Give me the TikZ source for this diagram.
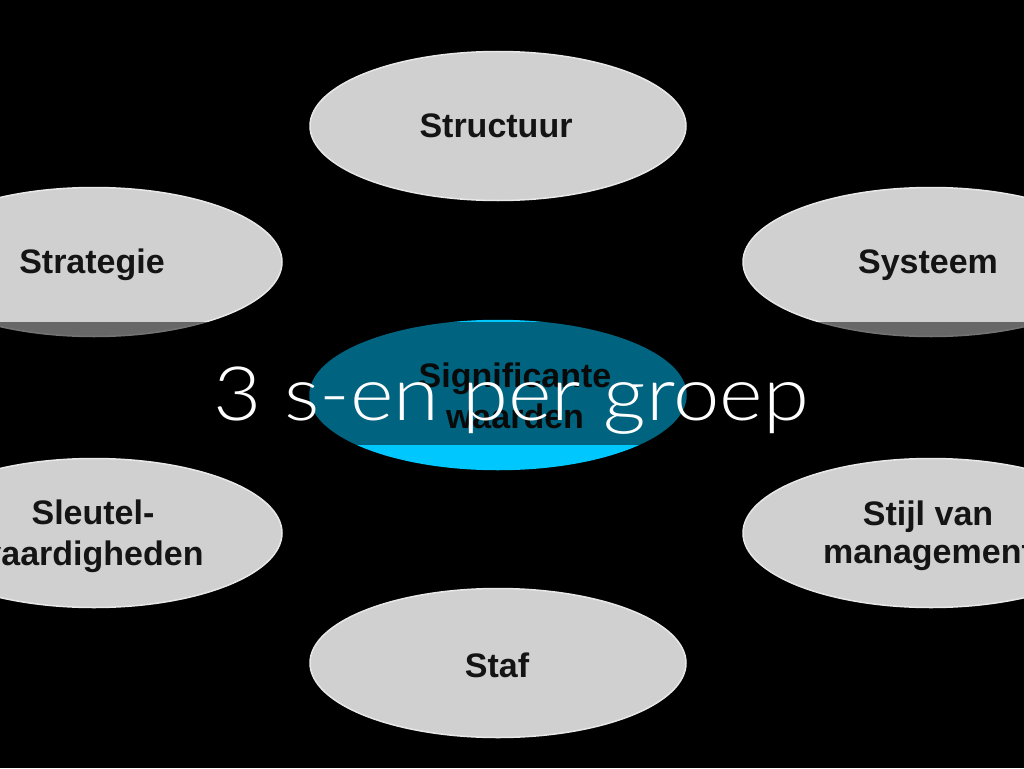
\documentclass[tikz,border=0pt]{standalone}
\usepackage{fontspec}
\usepackage{graphicx}
\setmainfont{Liberation Sans}
\newfontfamily\titlefont{Lato}[UprightFont=* Light]
\usetikzlibrary{shapes.geometric}
\definecolor{ovalgrey}{HTML}{D0D0D0}
\definecolor{ovalrim}{HTML}{E8E8E8}
\definecolor{ovalcyan}{HTML}{00C8FF}
\tikzset{
  oval/.style={ellipse, fill=ovalgrey, draw=ovalrim, line width=1.5pt,
    minimum width=376pt, minimum height=149pt, inner sep=0pt},
  coreoval/.style={oval, fill=ovalcyan, draw=ovalcyan},
  lbl/.style={anchor=base, inner sep=0pt, text=black!92,
    font=\bfseries\fontsize{34}{40}\selectfont},
  titletext/.style={anchor=base, inner sep=0pt, text=white,
    font=\titlefont\fontsize{75}{80}\selectfont}
}
\begin{document}
\begin{tikzpicture}[x=1pt,y=-1pt]
\useasboundingbox (0,0) rectangle (1024,768);
\fill[black] (0,0) rectangle (1024,768);
% ovals
\node[oval] (structuur) at (498,126) {};
\node[oval] (strategie) at (94,262) {};
\node[oval] (systeem) at (931,262) {};
\node[coreoval] (waarden) at (498,395) {};
\node[oval] (sleutel) at (94,533) {};
\node[oval] (stijl) at (931,533) {};
\node[oval] (staf) at (498,663) {};
% labels
\node[lbl] (tstructuur) at (496,137) {Structuur};
\node[lbl] (tstrategie) at (92,273) {Strategie};
\node[lbl] (tsysteem) at (928,273) {Systeem};
\node[lbl] (twaarden1) at (515,387) {Significante};
\node[lbl] (twaarden2) at (515,428) {waarden};
\node[lbl] (tsleutel1) at (93,524) {Sleutel-};
\node[lbl] (tsleutel2) at (93,565) {vaardigheden};
\node[lbl] (tstijl1) at (928,525) {Stijl van};
\node[lbl] (tstijl2) at (928,563) {management};
\node[lbl] (tstaf) at (497,677) {Staf};
% dark band behind the title
\fill[black, opacity=0.5] (0,322) rectangle (1024,445);
\node[titletext] (title) at (511,420) {\scalebox{1.11}[1]{3 s-en per groep}};
\end{tikzpicture}
\end{document}
